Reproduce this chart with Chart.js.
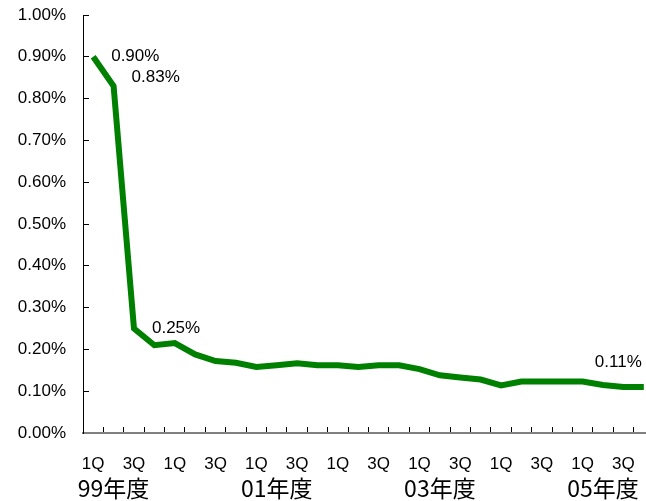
<!DOCTYPE html>
<html lang="ja">
<head>
    <meta charset="UTF-8">
    <title>Rate by quarter</title>
    <script src="https://cdn.jsdelivr.net/npm/chart.js"></script>
    <style>
        html, body { margin: 0; padding: 0; background: #fff; overflow: hidden; }
        .wrap { width: 656px; height: 501px; }
    </style>
</head>
<body>
    <div class="wrap"><canvas id="rateChart" width="656" height="501"></canvas></div>
    <script>
        // quarters 99年度 1Q .. 05年度 4Q
        const quarterLabels = [
            '1Q', '', '3Q', '',  '1Q', '', '3Q', '',  '1Q', '', '3Q', '',  '1Q', '', '3Q', '',
            '1Q', '', '3Q', '',  '1Q', '', '3Q', '',  '1Q', '', '3Q', ''
        ];
        const yearLabels = [
            '', '99年度', '', '',  '', '', '', '',  '', '01年度', '', '',  '', '', '', '',
            '', '03年度', '', '',  '', '', '', '',  '', '05年度', '', ''
        ];
        const rates = [
            0.90, 0.83, 0.25, 0.21, 0.215, 0.188, 0.172, 0.168, 0.158, 0.162, 0.167, 0.162, 0.162, 0.158,
            0.162, 0.162, 0.153, 0.138, 0.133, 0.128, 0.114, 0.123, 0.123, 0.123, 0.123, 0.115, 0.11, 0.11
        ];
        const labeledIndex = [0, 1, 2, 27];
        const yTicks = [0, 0.1, 0.2, 0.3, 0.4, 0.5, 0.6, 0.7, 0.8, 0.9, 1.0];

        const numFont = "'Liberation Sans', Arial, sans-serif";

        const labelStyle = {
            0: { dx: 18, dy: 0, align: 'left' },
            1: { dx: 18, dy: -9, align: 'left' },
            2: { dx: 18, dy: 0, align: 'left' },
            27: { dx: -2, dy: -25, align: 'right' }
        };

        const valueLabels = {
            id: 'valueLabels',
            afterDatasetsDraw(chart) {
                const ctx = chart.ctx;
                const meta = chart.getDatasetMeta(0);
                ctx.save();
                ctx.font = '17px ' + numFont;
                ctx.fillStyle = '#000';
                ctx.textBaseline = 'middle';
                labeledIndex.forEach(i => {
                    const pt = meta.data[i];
                    const s = labelStyle[i];
                    ctx.textAlign = s.align;
                    ctx.fillText(rates[i].toFixed(2) + '%', pt.x + s.dx, pt.y + s.dy);
                });
                ctx.restore();
            }
        };

        // keep label padding from pushing the plot area around
        function noPad(scale) {
            scale.paddingTop = 0;
            scale.paddingBottom = 0;
            scale.paddingLeft = 0;
            scale.paddingRight = 0;
        }

        new Chart(document.getElementById('rateChart'), {
            type: 'line',
            data: {
                labels: quarterLabels,
                datasets: [{
                    data: rates,
                    borderColor: '#008000',
                    borderWidth: 6,
                    pointRadius: 0,
                    tension: 0,
                    fill: false
                }]
            },
            options: {
                responsive: false,
                animation: false,
                layout: { padding: { top: 15, right: 2, bottom: 0, left: 0 } },
                plugins: { legend: { display: false }, tooltip: { enabled: false } },
                scales: {
                    x: {
                        offset: true,
                        grid: { offset: true, drawOnChartArea: false, tickLength: -6, color: '#000' },
                        border: { color: '#808080', width: 2 },
                        ticks: {
                            autoSkip: false, maxRotation: 0, padding: 27,
                            color: '#000', font: { family: numFont, size: 17 }
                        },
                        afterFit(scale) { scale.height = 40; noPad(scale); }
                    },
                    x2: {
                        type: 'category',
                        labels: yearLabels,
                        position: 'bottom',
                        offset: true,
                        grid: { display: false, drawTicks: false },
                        border: { display: false },
                        ticks: {
                            autoSkip: false, maxRotation: 0, padding: 1,
                            color: '#000', font: { family: "'Noto Sans CJK JP', sans-serif", size: 23 }
                        },
                        afterFit(scale) { scale.height = 28; noPad(scale); }
                    },
                    y: {
                        min: 0,
                        max: 1,
                        afterBuildTicks(scale) { scale.ticks = yTicks.map(v => ({ value: v })); },
                        grid: { drawOnChartArea: false, tickLength: -6, color: '#000' },
                        border: { color: '#000', width: 1 },
                        ticks: {
                            padding: 23,
                            color: '#000',
                            font: { family: numFont, size: 17 },
                            callback: v => v.toFixed(2) + '%'
                        },
                        afterFit(scale) { scale.width = 83; noPad(scale); }
                    }
                }
            },
            plugins: [valueLabels]
        });
    </script>
</body>
</html>
